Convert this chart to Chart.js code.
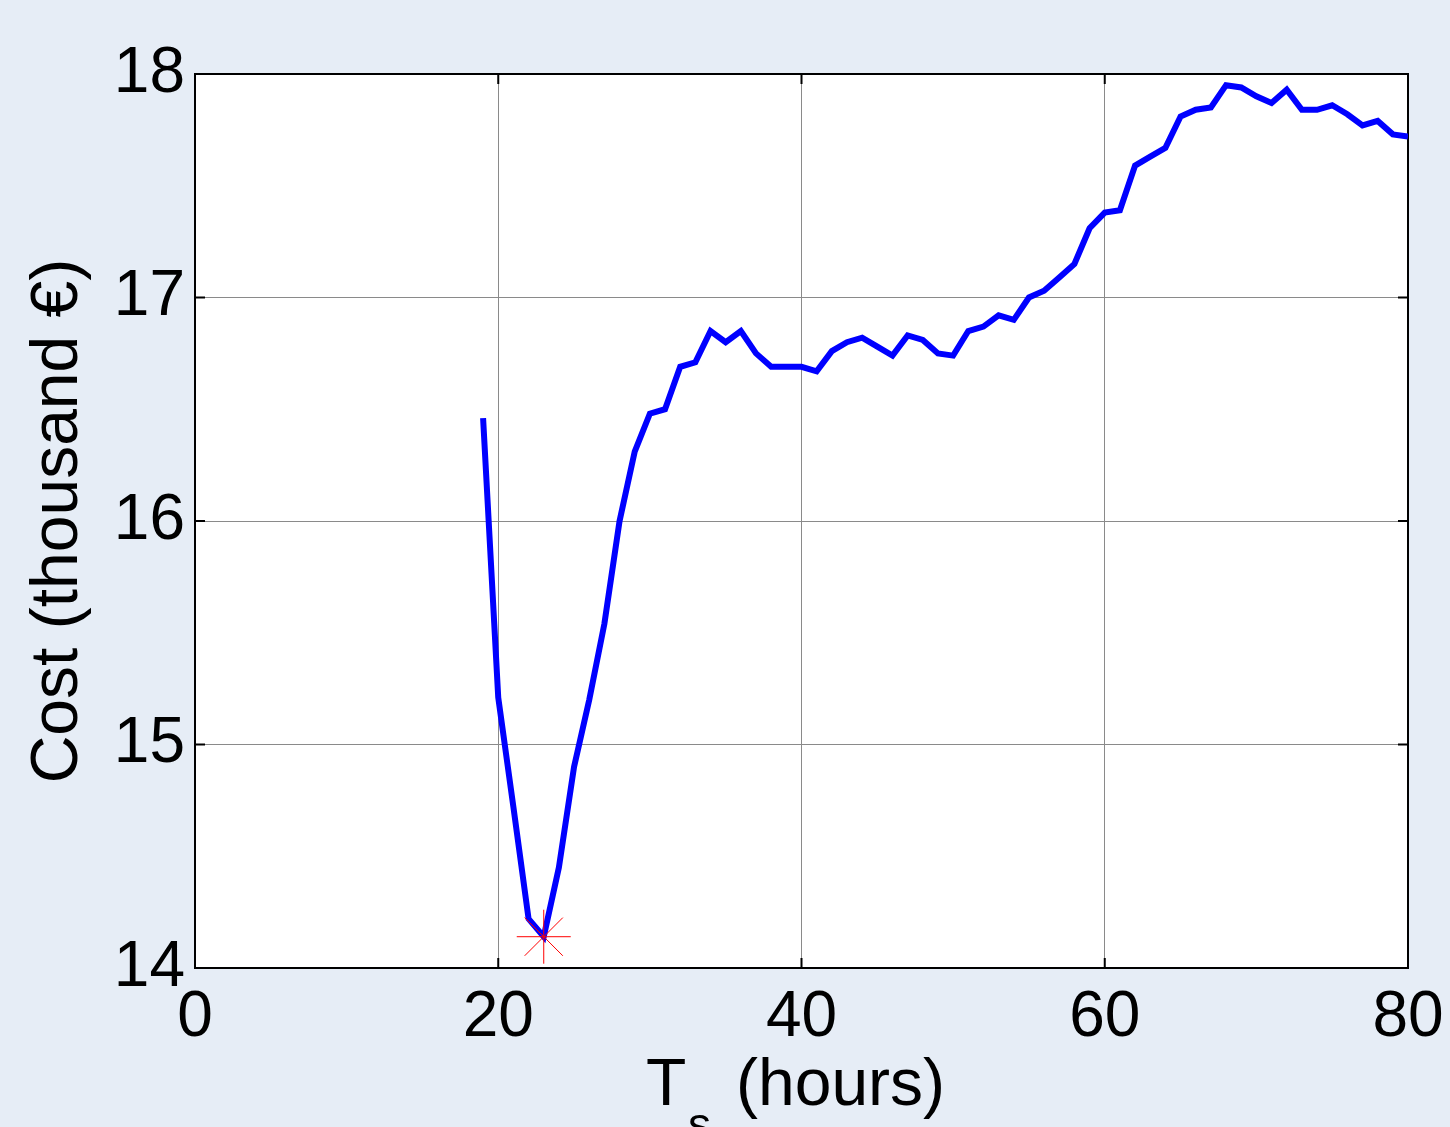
<!DOCTYPE html>
<html>
<head>
<meta charset="utf-8">
<title>Cost vs Ts</title>
<script src="https://cdn.jsdelivr.net/npm/chart.js@4.4.1/dist/chart.umd.min.js"></script>
<style>
  html, body { margin: 0; padding: 0; background: #e6edf6; }
  #wrap { width: 1450px; height: 1127px; }
</style>
</head>
<body>
<div id="wrap"><canvas id="costChart" width="1450" height="1127"></canvas></div>
<script>
// data (hours vs cost in thousand euro)
const hours = [19, 20, 21, 22, 23, 24, 25, 26, 27, 28, 29, 30, 31, 32, 33, 34, 35, 36, 37, 38, 39, 40,
  41, 42, 43, 44, 45, 46, 47, 48, 49, 50, 51, 52, 53, 54, 55, 56, 57, 58, 59, 60,
  61, 62, 63, 64, 65, 66, 67, 68, 69, 70, 71, 72, 73, 74, 75, 76, 77, 78, 79, 80];
const cost = [16.46, 15.21, 14.72, 14.22, 14.14, 14.45, 14.90, 15.20, 15.54, 16.00, 16.31, 16.48,
  16.50, 16.69, 16.71, 16.85, 16.80, 16.85, 16.75, 16.69, 16.69, 16.69,
  16.67, 16.76, 16.80, 16.82, 16.78, 16.74, 16.83, 16.81, 16.75, 16.74, 16.85, 16.87, 16.92, 16.90, 17.00,
  17.03, 17.09, 17.15, 17.31, 17.38, 17.39, 17.59, 17.63, 17.67, 17.81, 17.84, 17.85, 17.95, 17.94, 17.90,
  17.87, 17.93, 17.84, 17.84, 17.86, 17.82, 17.77, 17.79, 17.73, 17.72];
const bestHour = [23];
const bestCost = [14.14];
const xTicks = [0, 20, 40, 60, 80];
const yTicks = [14, 15, 16, 17, 18];

const FONT = 'Liberation Sans, Arial, Helvetica, sans-serif';
const BG = '#e6edf6';

// white plot box, black frame and inward tick marks (matlab look)
const framePlugin = {
  id: 'frame',
  beforeDraw(chart) {
    const { ctx, chartArea: a } = chart;
    ctx.save();
    ctx.fillStyle = BG;
    ctx.fillRect(0, 0, chart.width, chart.height);
    ctx.fillStyle = '#ffffff';
    ctx.fillRect(a.left, a.top, a.right - a.left, a.bottom - a.top);
    ctx.restore();
  },
  beforeDatasetsDraw(chart) {
    const { ctx, chartArea: a, scales } = chart;
    ctx.save();
    ctx.strokeStyle = '#000';
    ctx.lineWidth = 2;
    ctx.strokeRect(a.left, a.top, a.right - a.left, a.bottom - a.top);
    const len = 10;
    ctx.beginPath();
    xTicks.forEach(v => {
      const px = scales.x.getPixelForValue(v);
      ctx.moveTo(px, a.bottom); ctx.lineTo(px, a.bottom - len);
      ctx.moveTo(px, a.top); ctx.lineTo(px, a.top + len);
    });
    yTicks.forEach(v => {
      const py = scales.y.getPixelForValue(v);
      ctx.moveTo(a.left, py); ctx.lineTo(a.left + len, py);
      ctx.moveTo(a.right, py); ctx.lineTo(a.right - len, py);
    });
    ctx.stroke();
    ctx.restore();
  },
  afterDraw(chart) {
    // x title with subscript s
    const { ctx } = chart;
    ctx.save();
    ctx.fillStyle = '#000';
    ctx.textBaseline = 'alphabetic';
    ctx.textAlign = 'left';
    ctx.font = '66px ' + FONT;
    ctx.fillText('T', 646, 1105);
    ctx.font = '46px ' + FONT;
    ctx.fillText('s', 688, 1140);
    ctx.font = '66px ' + FONT;
    ctx.fillText('(hours)', 736, 1105);
    ctx.restore();
  }
};

const ctx = document.getElementById('costChart');
new Chart(ctx, {
  type: 'line',
  data: {
    datasets: [{
      label: 'Cost',
      data: hours.map((h, i) => ({ x: h, y: cost[i] })),
      borderColor: '#0000ff',
      borderWidth: 6,
      pointRadius: 0,
      tension: 0,
      fill: false,
      order: 2
    }, {
      label: 'Minimum',
      data: bestHour.map((h, i) => ({ x: h, y: bestCost[i] })),
      showLine: false,
      pointStyle: 'star',
      pointRadius: 27,
      borderColor: '#ff0000',
      backgroundColor: '#ff0000',
      borderWidth: 1,
      clip: false,
      order: 1
    }]
  },
  options: {
    responsive: false,
    animation: false,
    layout: { padding: { top: 74, right: 42, left: 0, bottom: 0 } },
    plugins: {
      legend: { display: false },
      tooltip: { enabled: false }
    },
    scales: {
      x: {
        type: 'linear',
        min: 0,
        max: 80,
        afterBuildTicks: s => { s.ticks = xTicks.map(v => ({ value: v })); },
        afterFit: s => { s.height = 159; s.paddingLeft = 0; s.paddingRight = 0; },
        grid: { color: '#8a8a8a', lineWidth: 1, drawTicks: false },
        border: { display: false },
        ticks: { color: '#000', padding: 12, maxRotation: 0, font: { family: FONT, size: 64 } }
      },
      y: {
        type: 'linear',
        min: 14,
        max: 18,
        afterBuildTicks: s => { s.ticks = yTicks.map(v => ({ value: v })); },
        afterFit: s => { s.width = 195; s.paddingTop = 0; s.paddingBottom = 0; },
        grid: { color: '#8a8a8a', lineWidth: 1, drawTicks: false },
        border: { display: false },
        ticks: { color: '#000', padding: 10, font: { family: FONT, size: 64 } },
        title: {
          display: true,
          text: 'Cost (thousand €)',
          color: '#000',
          padding: { top: 19, bottom: 0 },
          font: { family: FONT, size: 66 }
        }
      }
    }
  },
  plugins: [framePlugin]
});
</script>
</body>
</html>
